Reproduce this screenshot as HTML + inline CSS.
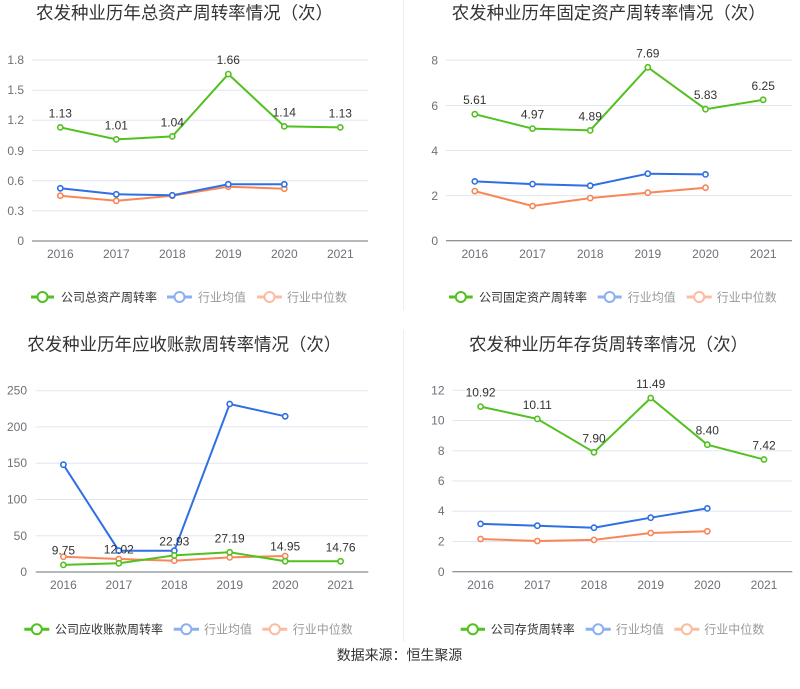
<!DOCTYPE html>
<html><head><meta charset="utf-8"><style>
html,body{margin:0;padding:0;background:#fff;}
svg{display:block;font-family:"Liberation Sans","Noto Sans CJK SC",sans-serif;}
.t{font-size:17.5px;fill:#333;}
.ax{font-size:12px;fill:#6e7079;}
.dl{font-size:12px;fill:#333;text-anchor:middle;}
.lg{font-size:12px;fill:#333;}
.lg2{font-size:12px;fill:#999;}
.g{stroke:#e0e6f1;stroke-width:1;}
.axl{stroke:#6e7079;stroke-width:1;}
.lg1{fill:none;stroke:#52c11f;stroke-width:2;}
.lb{fill:none;stroke:#2f6fe3;stroke-width:2;}
.lo{fill:none;stroke:#f98656;stroke-width:2;}
.mg{fill:#fff;stroke:#52c11f;stroke-width:1.6;}
.mb{fill:#fff;stroke:#2f6fe3;stroke-width:1.6;}
.mo{fill:#fff;stroke:#f98656;stroke-width:1.6;}
</style></head><body>
<svg width="800" height="689" viewBox="0 0 800 689" xmlns="http://www.w3.org/2000/svg">
<rect width="800" height="689" fill="#fff"/>
<line x1="403.5" y1="0" x2="403.5" y2="310" stroke="#eee"/>
<line x1="403.5" y1="330" x2="403.5" y2="642" stroke="#eee"/>

<!-- Chart 1 -->
<text class="t" x="36" y="19" textLength="297" lengthAdjust="spacing">农发种业历年总资产周转率情况（次）</text>
<g>
<line class="g" x1="32" y1="210.8" x2="368" y2="210.8"/>
<line class="g" x1="32" y1="180.7" x2="368" y2="180.7"/>
<line class="g" x1="32" y1="150.5" x2="368" y2="150.5"/>
<line class="g" x1="32" y1="120.3" x2="368" y2="120.3"/>
<line class="g" x1="32" y1="90.2" x2="368" y2="90.2"/>
<line class="g" x1="32" y1="60" x2="368" y2="60"/>
<line class="axl" x1="32" y1="241" x2="368" y2="241"/>
<g class="ax" text-anchor="end">
<text x="24" y="245">0</text><text x="24" y="215">0.3</text><text x="24" y="185">0.6</text><text x="24" y="155">0.9</text><text x="24" y="124">1.2</text><text x="24" y="94">1.5</text><text x="24" y="64">1.8</text>
</g>
<g class="ax" text-anchor="middle">
<text x="60.3" y="258">2016</text><text x="116.3" y="258">2017</text><text x="172.3" y="258">2018</text><text x="228.3" y="258">2019</text><text x="284.3" y="258">2020</text><text x="340.3" y="258">2021</text>
</g>
<polyline class="lo" points="60.3,195.7 116.3,200.8 172.3,195.7 228.3,186.7 284.3,188.7"/>
<polyline class="lb" points="60.3,188.3 116.3,194.3 172.3,195.3 228.3,184.3 284.3,184.3"/>
<polyline class="lg1" points="60.3,127.4 116.3,139.4 172.3,136.4 228.3,74.1 284.3,126.4 340.3,127.4"/>
<g class="mo"><circle cx="60.3" cy="195.7" r="2.6"/><circle cx="116.3" cy="200.8" r="2.6"/><circle cx="172.3" cy="195.7" r="2.6"/><circle cx="228.3" cy="186.7" r="2.6"/><circle cx="284.3" cy="188.7" r="2.6"/></g>
<g class="mb"><circle cx="60.3" cy="188.3" r="2.6"/><circle cx="116.3" cy="194.3" r="2.6"/><circle cx="172.3" cy="195.3" r="2.6"/><circle cx="228.3" cy="184.3" r="2.6"/><circle cx="284.3" cy="184.3" r="2.6"/></g>
<g class="mg"><circle cx="60.3" cy="127.4" r="2.6"/><circle cx="116.3" cy="139.4" r="2.6"/><circle cx="172.3" cy="136.4" r="2.6"/><circle cx="228.3" cy="74.1" r="2.6"/><circle cx="284.3" cy="126.4" r="2.6"/><circle cx="340.3" cy="127.4" r="2.6"/></g>
<text class="dl" x="60.3" y="117.4">1.13</text><text class="dl" x="116.3" y="129.4">1.01</text><text class="dl" x="172.3" y="126.4">1.04</text><text class="dl" x="228.3" y="64.1">1.66</text><text class="dl" x="284.3" y="116.4">1.14</text><text class="dl" x="340.3" y="117.4">1.13</text>
<!-- legend -->
<line x1="31" y1="297" x2="54" y2="297" stroke="#52c11f" stroke-width="3"/><circle cx="42.5" cy="297" r="5" fill="#fff" stroke="#52c11f" stroke-width="2"/>
<text class="lg" x="61" y="301.3">公司总资产周转率</text>
<g opacity="0.55"><line x1="167" y1="297" x2="192" y2="297" stroke="#2f6fe3" stroke-width="3"/><circle cx="179.5" cy="297" r="5" fill="#fff" stroke="#2f6fe3" stroke-width="2"/>
<line x1="257" y1="297" x2="282" y2="297" stroke="#f98656" stroke-width="3"/><circle cx="269.5" cy="297" r="5" fill="#fff" stroke="#f98656" stroke-width="2"/></g>
<text class="lg2" x="198" y="301.3">行业均值</text>
<text class="lg2" x="287" y="301.3">行业中位数</text>
</g>

<!-- Chart 2 -->
<text class="t" x="451.7" y="19" textLength="314" lengthAdjust="spacing">农发种业历年固定资产周转率情况（次）</text>
<g>
<line class="g" x1="446" y1="195.6" x2="792" y2="195.6"/>
<line class="g" x1="446" y1="150.5" x2="792" y2="150.5"/>
<line class="g" x1="446" y1="105.5" x2="792" y2="105.5"/>
<line class="g" x1="446" y1="60.3" x2="792" y2="60.3"/>
<line class="axl" x1="446" y1="240.7" x2="792" y2="240.7"/>
<g class="ax" text-anchor="end">
<text x="438" y="245">0</text><text x="438" y="200">2</text><text x="438" y="155">4</text><text x="438" y="110">6</text><text x="438" y="64.5">8</text>
</g>
<g class="ax" text-anchor="middle">
<text x="474.8" y="258">2016</text><text x="532.5" y="258">2017</text><text x="590.2" y="258">2018</text><text x="647.8" y="258">2019</text><text x="705.5" y="258">2020</text><text x="763.2" y="258">2021</text>
</g>
<polyline class="lo" points="474.8,191.1 532.5,206 590.2,198.1 647.8,192.7 705.5,187.7"/>
<polyline class="lb" points="474.8,181.4 532.5,184.1 590.2,185.7 647.8,173.7 705.5,174.4"/>
<polyline class="lg1" points="474.8,114.2 532.5,128.6 590.2,130.4 647.8,67.3 705.5,109.2 763.2,99.8"/>
<g class="mo"><circle cx="474.8" cy="191.1" r="2.6"/><circle cx="532.5" cy="206" r="2.6"/><circle cx="590.2" cy="198.1" r="2.6"/><circle cx="647.8" cy="192.7" r="2.6"/><circle cx="705.5" cy="187.7" r="2.6"/></g>
<g class="mb"><circle cx="474.8" cy="181.4" r="2.6"/><circle cx="532.5" cy="184.1" r="2.6"/><circle cx="590.2" cy="185.7" r="2.6"/><circle cx="647.8" cy="173.7" r="2.6"/><circle cx="705.5" cy="174.4" r="2.6"/></g>
<g class="mg"><circle cx="474.8" cy="114.2" r="2.6"/><circle cx="532.5" cy="128.6" r="2.6"/><circle cx="590.2" cy="130.4" r="2.6"/><circle cx="647.8" cy="67.3" r="2.6"/><circle cx="705.5" cy="109.2" r="2.6"/><circle cx="763.2" cy="99.8" r="2.6"/></g>
<text class="dl" x="474.8" y="104.2">5.61</text><text class="dl" x="532.5" y="118.6">4.97</text><text class="dl" x="590.2" y="120.4">4.89</text><text class="dl" x="647.8" y="57.3">7.69</text><text class="dl" x="705.5" y="99.2">5.83</text><text class="dl" x="763.2" y="89.8">6.25</text>
<line x1="449" y1="297" x2="472.7" y2="297" stroke="#52c11f" stroke-width="3"/><circle cx="460.8" cy="297" r="5" fill="#fff" stroke="#52c11f" stroke-width="2"/>
<text class="lg" x="479" y="301.3">公司固定资产周转率</text>
<g opacity="0.55"><line x1="597.7" y1="297" x2="621.7" y2="297" stroke="#2f6fe3" stroke-width="3"/><circle cx="609.7" cy="297" r="5" fill="#fff" stroke="#2f6fe3" stroke-width="2"/>
<line x1="686.7" y1="297" x2="711.7" y2="297" stroke="#f98656" stroke-width="3"/><circle cx="699.2" cy="297" r="5" fill="#fff" stroke="#f98656" stroke-width="2"/></g>
<text class="lg2" x="627.7" y="301.3">行业均值</text>
<text class="lg2" x="716.7" y="301.3">行业中位数</text>
</g>

<!-- Chart 3 -->
<text class="t" x="27.3" y="350.5" textLength="314" lengthAdjust="spacing">农发种业历年应收账款周转率情况（次）</text>
<g>
<line class="g" x1="35.7" y1="535.7" x2="368.3" y2="535.7"/>
<line class="g" x1="35.7" y1="499.5" x2="368.3" y2="499.5"/>
<line class="g" x1="35.7" y1="463.2" x2="368.3" y2="463.2"/>
<line class="g" x1="35.7" y1="426.9" x2="368.3" y2="426.9"/>
<line class="g" x1="35.7" y1="390.7" x2="368.3" y2="390.7"/>
<line class="axl" x1="35.7" y1="572" x2="368.3" y2="572"/>
<g class="ax" text-anchor="end">
<text x="27" y="576">0</text><text x="27" y="540">50</text><text x="27" y="503.5">100</text><text x="27" y="467.2">150</text><text x="27" y="431">200</text><text x="27" y="394.7">250</text>
</g>
<g class="ax" text-anchor="middle">
<text x="63.4" y="589">2016</text><text x="118.8" y="589">2017</text><text x="174.3" y="589">2018</text><text x="229.7" y="589">2019</text><text x="285.2" y="589">2020</text><text x="340.6" y="589">2021</text>
</g>
<polyline class="lo" points="63.4,556.7 118.8,559 174.3,560.7 229.7,557.4 285.2,556"/>
<polyline class="lb" points="63.4,464.7 118.8,550.7 174.3,550.7 229.7,404 285.2,416.3"/>
<polyline class="lg1" points="63.4,564.9 118.8,563.3 174.3,555.4 229.7,552.3 285.2,561.2 340.6,561.3"/>
<g class="mo"><circle cx="63.4" cy="556.7" r="2.6"/><circle cx="118.8" cy="559" r="2.6"/><circle cx="174.3" cy="560.7" r="2.6"/><circle cx="229.7" cy="557.4" r="2.6"/><circle cx="285.2" cy="556" r="2.6"/></g>
<g class="mb"><circle cx="63.4" cy="464.7" r="2.6"/><circle cx="118.8" cy="550.7" r="2.6"/><circle cx="174.3" cy="550.7" r="2.6"/><circle cx="229.7" cy="404" r="2.6"/><circle cx="285.2" cy="416.3" r="2.6"/></g>
<g class="mg"><circle cx="63.4" cy="564.9" r="2.6"/><circle cx="118.8" cy="563.3" r="2.6"/><circle cx="174.3" cy="555.4" r="2.6"/><circle cx="229.7" cy="552.3" r="2.6"/><circle cx="285.2" cy="561.2" r="2.6"/><circle cx="340.6" cy="561.3" r="2.6"/></g>
<text class="dl" x="63.4" y="554.5">9.75</text><text class="dl" x="118.8" y="553.3">12.02</text><text class="dl" x="174.3" y="545.4">22.93</text><text class="dl" x="229.7" y="542.3">27.19</text><text class="dl" x="285.2" y="550.5">14.95</text><text class="dl" x="340.6" y="551.3">14.76</text>
<line x1="24.3" y1="629.3" x2="49.3" y2="629.3" stroke="#52c11f" stroke-width="3"/><circle cx="36.8" cy="629.3" r="5" fill="#fff" stroke="#52c11f" stroke-width="2"/>
<text class="lg" x="55" y="633.6">公司应收账款周转率</text>
<g opacity="0.55"><line x1="173.7" y1="629.3" x2="199" y2="629.3" stroke="#2f6fe3" stroke-width="3"/><circle cx="186.3" cy="629.3" r="5" fill="#fff" stroke="#2f6fe3" stroke-width="2"/>
<line x1="262.3" y1="629.3" x2="287.3" y2="629.3" stroke="#f98656" stroke-width="3"/><circle cx="274.8" cy="629.3" r="5" fill="#fff" stroke="#f98656" stroke-width="2"/></g>
<text class="lg2" x="204" y="633.6">行业均值</text>
<text class="lg2" x="292.7" y="633.6">行业中位数</text>
</g>

<!-- Chart 4 -->
<text class="t" x="469" y="350.5" textLength="279" lengthAdjust="spacing">农发种业历年存货周转率情况（次）</text>
<g>
<line class="g" x1="452.3" y1="541.5" x2="792.3" y2="541.5"/>
<line class="g" x1="452.3" y1="511.2" x2="792.3" y2="511.2"/>
<line class="g" x1="452.3" y1="481" x2="792.3" y2="481"/>
<line class="g" x1="452.3" y1="450.8" x2="792.3" y2="450.8"/>
<line class="g" x1="452.3" y1="420.5" x2="792.3" y2="420.5"/>
<line class="g" x1="452.3" y1="390.3" x2="792.3" y2="390.3"/>
<line class="axl" x1="452.3" y1="571.7" x2="792.3" y2="571.7"/>
<g class="ax" text-anchor="end">
<text x="444.5" y="576">0</text><text x="444.5" y="545.5">2</text><text x="444.5" y="515.2">4</text><text x="444.5" y="485">6</text><text x="444.5" y="454.8">8</text><text x="444.5" y="424.5">10</text><text x="444.5" y="394.3">12</text>
</g>
<g class="ax" text-anchor="middle">
<text x="480.6" y="589">2016</text><text x="537.3" y="589">2017</text><text x="594" y="589">2018</text><text x="650.7" y="589">2019</text><text x="707.3" y="589">2020</text><text x="764" y="589">2021</text>
</g>
<polyline class="lo" points="480.6,539 537.3,541 594,539.9 650.7,533 707.3,531.3"/>
<polyline class="lb" points="480.6,523.9 537.3,525.7 594,527.7 650.7,517.7 707.3,508.4"/>
<polyline class="lg1" points="480.6,406.6 537.3,418.9 594,452.3 650.7,398 707.3,444.7 764,459.5"/>
<g class="mo"><circle cx="480.6" cy="539" r="2.6"/><circle cx="537.3" cy="541" r="2.6"/><circle cx="594" cy="539.9" r="2.6"/><circle cx="650.7" cy="533" r="2.6"/><circle cx="707.3" cy="531.3" r="2.6"/></g>
<g class="mb"><circle cx="480.6" cy="523.9" r="2.6"/><circle cx="537.3" cy="525.7" r="2.6"/><circle cx="594" cy="527.7" r="2.6"/><circle cx="650.7" cy="517.7" r="2.6"/><circle cx="707.3" cy="508.4" r="2.6"/></g>
<g class="mg"><circle cx="480.6" cy="406.6" r="2.6"/><circle cx="537.3" cy="418.9" r="2.6"/><circle cx="594" cy="452.3" r="2.6"/><circle cx="650.7" cy="398" r="2.6"/><circle cx="707.3" cy="444.7" r="2.6"/><circle cx="764" cy="459.5" r="2.6"/></g>
<text class="dl" x="480.6" y="396.6">10.92</text><text class="dl" x="537.3" y="408.9">10.11</text><text class="dl" x="594" y="442.3">7.90</text><text class="dl" x="650.7" y="388">11.49</text><text class="dl" x="707.3" y="434.7">8.40</text><text class="dl" x="764" y="449.5">7.42</text>
<line x1="460.7" y1="629.3" x2="485" y2="629.3" stroke="#52c11f" stroke-width="3"/><circle cx="472.8" cy="629.3" r="5" fill="#fff" stroke="#52c11f" stroke-width="2"/>
<text class="lg" x="490.7" y="633.6">公司存货周转率</text>
<g opacity="0.55"><line x1="585.7" y1="629.3" x2="610.7" y2="629.3" stroke="#2f6fe3" stroke-width="3"/><circle cx="598.2" cy="629.3" r="5" fill="#fff" stroke="#2f6fe3" stroke-width="2"/>
<line x1="674.3" y1="629.3" x2="699.3" y2="629.3" stroke="#f98656" stroke-width="3"/><circle cx="686.8" cy="629.3" r="5" fill="#fff" stroke="#f98656" stroke-width="2"/></g>
<text class="lg2" x="616" y="633.6">行业均值</text>
<text class="lg2" x="704.3" y="633.6">行业中位数</text>
</g>

<text x="336.7" y="660" font-size="14" fill="#333" textLength="125.6" lengthAdjust="spacing">数据来源：恒生聚源</text>
</svg>
</body></html>
